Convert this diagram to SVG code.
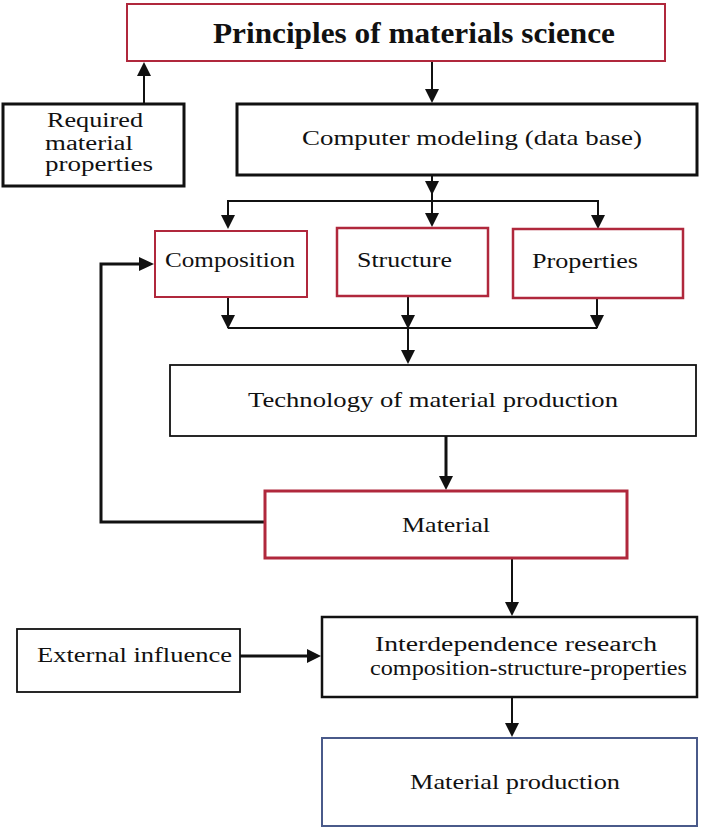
<svg xmlns="http://www.w3.org/2000/svg" width="701" height="829" viewBox="0 0 701 829">
<style>
text{font-family:"Liberation Serif","Times New Roman",serif;fill:#111;font-size:22px}
.title{font-size:30px;font-weight:bold}
.sm{font-size:20px}
.blk{fill:#fff;stroke:#111;stroke-width:1.8}
.thick{fill:#fff;stroke:#111;stroke-width:3}
.red{fill:#fff;stroke:#b0283c;stroke-width:2}
.blue{fill:#fff;stroke:#4a5a8a;stroke-width:2}
.c{fill:none;stroke:#111;stroke-width:2}
.cb{fill:none;stroke:#111;stroke-width:3}
.ah{fill:#111}
</style>
<rect width="701" height="829" fill="#fff"/>
<g id="connectors">
<line class="c" x1="144" y1="104" x2="144" y2="70"/>
<path class="ah" d="M137,76 L144,62 L151,76 z"/>
<line class="c" x1="432" y1="61" x2="432" y2="90"/>
<path class="ah" d="M425,89 L432,103 L439,89 z"/>
<line class="c" x1="432" y1="175" x2="432" y2="215"/>
<path class="ah" d="M425,181 L432,195 L439,181 z"/>
<path class="c" d="M228,216 V201 H598 V216"/>
<path class="ah" d="M221,215 L228,229 L235,215 z"/>
<path class="ah" d="M425,213 L432,227 L439,213 z"/>
<path class="ah" d="M591,215 L598,229 L605,215 z"/>
<line class="c" x1="228" y1="297" x2="228" y2="328"/>
<line class="c" x1="408" y1="296" x2="408" y2="350"/>
<line class="c" x1="597" y1="298" x2="597" y2="328"/>
<line class="c" x1="228" y1="328" x2="597" y2="328"/>
<path class="ah" d="M221,315 L228,329 L235,315 z"/>
<path class="ah" d="M401,315 L408,329 L415,315 z"/>
<path class="ah" d="M590,315 L597,329 L604,315 z"/>
<path class="ah" d="M401,350 L408,364 L415,350 z"/>
<line class="cb" x1="446" y1="436" x2="446" y2="476"/>
<path class="ah" d="M439,476 L446,490 L453,476 z"/>
<path class="cb" d="M265,522 H101 V264 H140"/>
<path class="ah" d="M139,257 L154,264 L139,271 z"/>
<line class="c" x1="512" y1="558" x2="512" y2="603"/>
<path class="ah" d="M505,602 L512,616 L519,602 z"/>
<line class="cb" x1="240" y1="656" x2="308" y2="656"/>
<path class="ah" d="M307,649 L321,656 L307,663 z"/>
<line class="c" x1="512" y1="697" x2="512" y2="724"/>
<path class="ah" d="M505,723 L512,737 L519,723 z"/>
</g>
<g id="principles"><rect class="red" x="127" y="4" width="538" height="57"/><text class="title" x="213" y="43" textLength="402" lengthAdjust="spacingAndGlyphs">Principles of materials science</text></g>
<g id="required"><rect class="thick" x="3" y="104" width="181" height="82"/><text class="sm" x="47" y="127" textLength="96" lengthAdjust="spacingAndGlyphs">Required</text><text class="sm" x="45" y="150" textLength="88" lengthAdjust="spacingAndGlyphs">material</text><text class="sm" x="45" y="171" textLength="108" lengthAdjust="spacingAndGlyphs">properties</text></g>
<g id="modeling"><rect class="thick" x="237" y="104" width="460" height="71"/><text x="302" y="145" textLength="340" lengthAdjust="spacingAndGlyphs">Computer modeling (data base)</text></g>
<g id="composition"><rect class="red" x="155" y="231" width="152" height="66"/><text x="165" y="267" textLength="130" lengthAdjust="spacingAndGlyphs">Composition</text></g>
<g id="structure"><rect class="red" x="337" y="228" width="151" height="68" style="stroke-width:2.5"/><text x="357" y="267" textLength="95" lengthAdjust="spacingAndGlyphs">Structure</text></g>
<g id="properties"><rect class="red" x="513" y="229" width="170" height="69" style="stroke-width:2.5"/><text x="532" y="268" textLength="106" lengthAdjust="spacingAndGlyphs">Properties</text></g>
<g id="technology"><rect class="blk" x="170" y="365" width="526" height="71"/><text x="248" y="407" textLength="370" lengthAdjust="spacingAndGlyphs">Technology of material production</text></g>
<g id="material"><rect class="red" x="265" y="491" width="362" height="67" style="stroke-width:3"/><text x="402" y="532" textLength="88" lengthAdjust="spacingAndGlyphs">Material</text></g>
<g id="external"><rect class="blk" x="17" y="629" width="223" height="63"/><text x="37" y="662" textLength="195" lengthAdjust="spacingAndGlyphs">External influence</text></g>
<g id="interdependence"><rect class="thick" x="322" y="617" width="375" height="80" style="stroke-width:2.5"/><text class="sm" x="375" y="651" textLength="282" lengthAdjust="spacingAndGlyphs">Interdependence research</text><text class="sm" x="370" y="675" textLength="317" lengthAdjust="spacingAndGlyphs">composition-structure-properties</text></g>
<g id="production"><rect class="blue" x="322" y="738" width="375" height="88"/><text x="410" y="789" textLength="210" lengthAdjust="spacingAndGlyphs">Material production</text></g>
</svg>
